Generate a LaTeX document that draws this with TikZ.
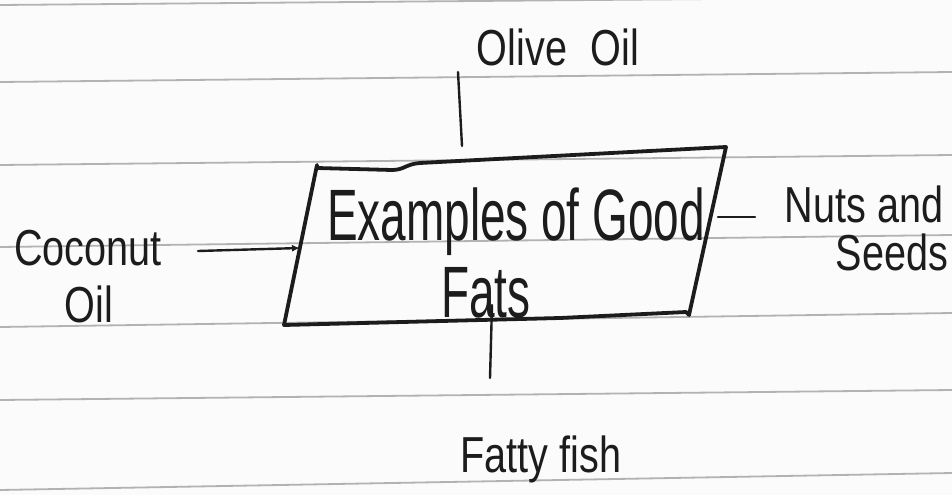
\documentclass[tikz,border=0pt]{standalone}
\usepackage{fontspec}
\setmainfont{Liberation Sans}
\usetikzlibrary{arrows.meta}
\definecolor{ink}{RGB}{28,28,28}
\definecolor{ruleline}{RGB}{178,178,178}
\definecolor{paper}{RGB}{251,251,251}
\begin{document}
\begin{tikzpicture}[x=1pt,y=-1pt,
  paperrule/.style={draw=ruleline,line width=1.8pt},
  boxline/.style={draw=ink,line width=3.8pt,line join=round,line cap=round},
  conn/.style={draw=ink,line width=2.4pt,line cap=round},
  label/.style={text=ink,inner sep=0pt,font=\fontsize{44}{50}\selectfont,xscale=0.9,yscale=1.15},
  title/.style={text=ink,inner sep=0pt,font=\fontsize{56}{64}\selectfont,xscale=0.82,yscale=1.3}]
\useasboundingbox (0,0) rectangle (952,495);
\fill[paper] (0,0) rectangle (952,495);

% ruled notebook lines
\foreach \l/\r in {5/-3,82/72,165/155,247/235,327/313,400/390,490/473}
  \draw[paperrule] (0,\l) -- (952,\r);

% central box
\coordinate (bTL) at (317,165);
\coordinate (bTR) at (726,147);
\coordinate (bBR) at (689,315);
\coordinate (bBL) at (284,325);
\draw[boxline] (bBL) -- (bTL) -- (317,168) -- (392,170)
  .. controls (404,170) and (406,164) .. (420,163) -- (bTR)
  -- (bBR) -- (686,312) -- (560,318) -- cycle;

\node[title,anchor=base] (main) at (516,240) {Examples of Good};
\node[title,anchor=base] (mainb) at (486,317) {Fats};

% surrounding labels
\node[label,anchor=base] (olive) at (558,65) {Olive\hspace{0.6em}Oil};
\node[label,anchor=base] (coco) at (88,265) {Coconut};
\node[label,anchor=base] (cocob) at (89,322) {Oil};
\node[label,anchor=base] (nuts) at (864,222) {Nuts and};
\node[label,anchor=base] (nutsb) at (892,270) {Seeds};
\node[label,anchor=base] (fish) at (541,472) {Fatty fish};

% connector ends
\coordinate (oliveTail) at (458,72);
\coordinate (boxTop) at (462,146);
\coordinate (cocoTail) at (198,251);
\coordinate (boxLeft) at (300,248);
\coordinate (boxRight) at (718,217);
\coordinate (nutsTail) at (755,217);
\coordinate (boxBottom) at (492,305);
\coordinate (fishTail) at (490,378);

\draw[conn] (oliveTail) -- (boxTop);
\draw[conn,-{Latex[length=8pt,width=7pt]}] (cocoTail) -- (boxLeft);
\draw[conn] (boxRight) -- (nutsTail);
\draw[conn] (boxBottom) -- (fishTail);
\end{tikzpicture}
\end{document}
